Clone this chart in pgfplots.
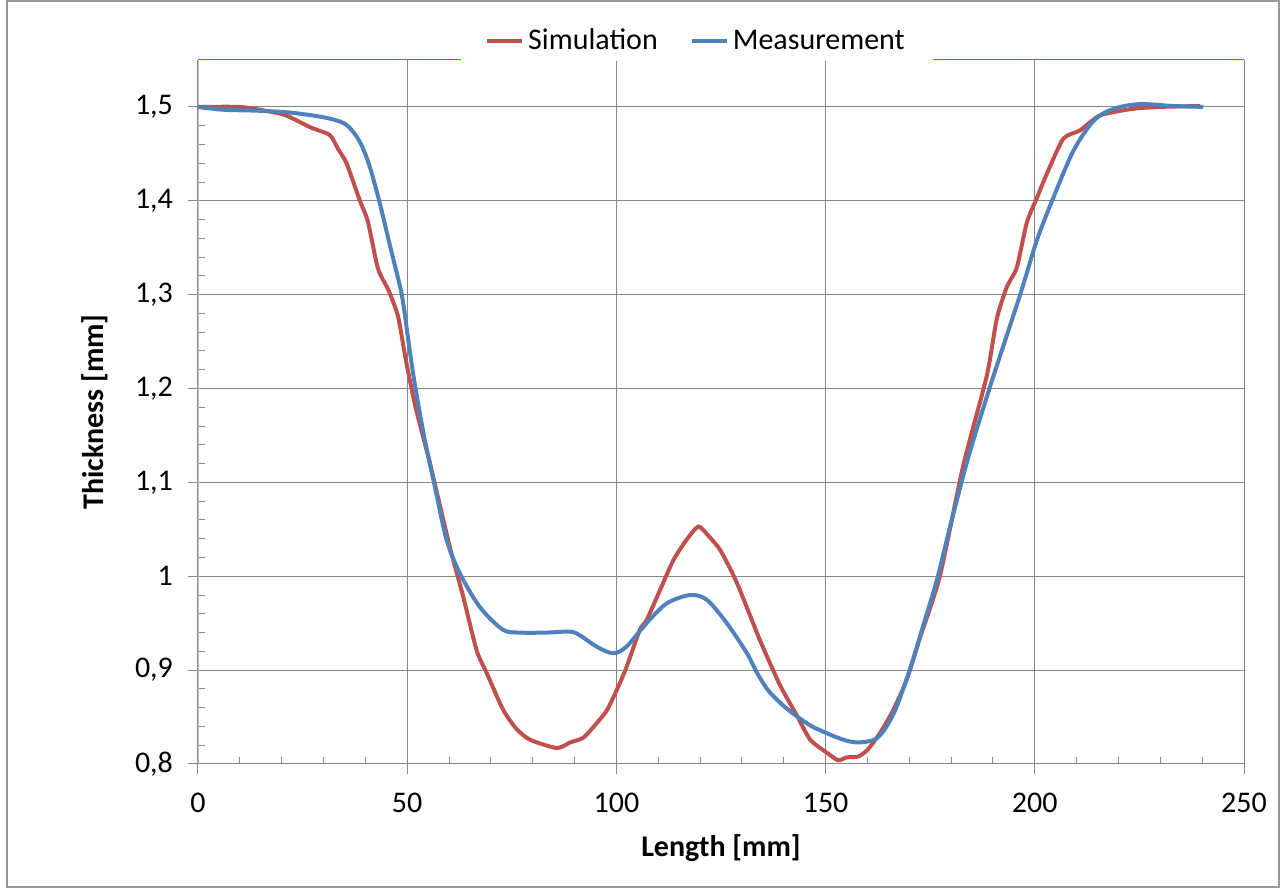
\documentclass[border=0pt]{standalone}
\usepackage{fontspec}
\setmainfont{Carlito}
\usepackage{pgfplots}
\pgfplotsset{compat=1.18}

\definecolor{simred}{HTML}{C0504D}
\definecolor{measblue}{HTML}{4F81BD}
\definecolor{gridgray}{HTML}{868686}
\definecolor{leftgray}{HTML}{BFBFBF}
\definecolor{frameblue}{HTML}{2E86D6}

% Simulation
\pgfplotstableread{
x y
0 1.500
10 1.500
16 1.496
21 1.491
27 1.478
31.5 1.470
33.5 1.455
35.5 1.440
38.7 1.400
40.6 1.378
43 1.328
45.5 1.305
47.8 1.277
49.7 1.230
52 1.180
55.4 1.121
60.2 1.031
63.4 0.978
66.6 0.921
69 0.897
72.9 0.858
76 0.838
79.3 0.826
85.7 0.817
89 0.823
92.1 0.828
95 0.842
97.7 0.857
100.1 0.879
102.4 0.903
105.6 0.943
107.2 0.953
110.4 0.985
113.6 1.017
116.8 1.039
119.6 1.053
122 1.043
124.8 1.028
128.8 0.993
134.3 0.932
139.1 0.884
143.1 0.852
146.3 0.826
150 0.813
153 0.804
155 0.807
157.8 0.808
160 0.815
163 0.833
166 0.856
169.4 0.890
172.6 0.935
177.3 1.000
182.9 1.118
188.5 1.213
190.9 1.274
193.3 1.308
195.7 1.329
198.1 1.377
200.5 1.403
202.8 1.428
206.8 1.466
210.8 1.475
215.6 1.491
223.5 1.498
230 1.500
239.5 1.501
}\simdata

% Measurement
\pgfplotstableread{
x y
0 1.500
6 1.497
14 1.496
22 1.494
30 1.489
34.7 1.483
37 1.474
39 1.460
41 1.437
43.3 1.400
46 1.350
48.7 1.300
50.3 1.250
51.7 1.208
54 1.150
56.4 1.100
59.4 1.039
62.6 1.003
67.4 0.967
72.9 0.943
77 0.940
83.3 0.940
88.9 0.941
91.3 0.937
95.3 0.925
99.2 0.918
102.4 0.925
107.2 0.950
112 0.971
117.6 0.980
121.6 0.975
126.4 0.950
131.2 0.918
133.5 0.898
136 0.880
138.5 0.868
141 0.858
144 0.848
147.2 0.839
153.5 0.827
157.6 0.823
162.4 0.828
166.3 0.854
170.3 0.903
173.5 0.950
176.6 0.996
179.7 1.052
184 1.125
189.3 1.202
196.5 1.300
200.5 1.358
204.4 1.403
209.2 1.453
214 1.485
218.8 1.498
225.1 1.503
233.1 1.501
240.3 1.500
}\measdata

\begin{document}
\begin{tikzpicture}
\begin{axis}[
    name=ax,
    scale only axis,
    width=523pt, height=352pt,
    xmin=0, xmax=250, ymin=0.8, ymax=1.55,
    xtick={0,50,...,250},
    ytick={0.8,0.9,...,1.5},
    minor x tick num=4,
    minor y tick num=4,
    xtick pos=bottom, ytick pos=left,
    tick align=outside,
    major tick length=5pt,
    minor tick length=3.5pt,
    tick style={gridgray, line width=0.5pt},
    minor x tick style={yshift=3.5pt},
    minor y tick style={xshift=3.5pt},
    grid=major,
    major grid style={gridgray, line width=0.5pt},
    axis line style={draw=none},
    /pgf/number format/.cd, use comma, fixed, precision=1, assume math mode=true,
    /pgfplots/.cd,
    ticklabel style={font=\fontsize{15}{18}\selectfont},
    xticklabel style={yshift=-6pt},
    yticklabel style={xshift=-4pt},
    xlabel={Length [mm]},
    ylabel={Thickness [mm]},
    label style={font=\fontsize{15}{18}\selectfont\bfseries},
    xlabel style={yshift=-4pt},
    ylabel style={yshift=6.5pt},
    legend columns=2,
    legend style={draw=none, fill=white, at={(0.477,1.027)}, anchor=center,
        font=\fontsize{15}{18}\selectfont, inner xsep=12pt, inner ysep=2pt,
        /tikz/every even column/.append style={column sep=14pt}},
    legend image code/.code={\draw[#1, line width=2pt] (0pt,0pt) -- (17.5pt,0pt);},
]
\draw[leftgray, line width=1.5pt] (rel axis cs:0,0) -- (rel axis cs:0,1);
\draw[gridgray, line width=0.6pt] (rel axis cs:0,0) -- (rel axis cs:1,0);
\draw[frameblue, line width=0.5pt] (rel axis cs:0,1) -- (rel axis cs:1,1) -- (rel axis cs:1,0.03);
\addplot[simred, line width=2pt, smooth, tension=0.4] table[x=x,y=y] {\simdata};
\addlegendentry{Simulation}
\addplot[measblue, line width=2pt, smooth, tension=0.5] table[x=x,y=y] {\measdata};
\addlegendentry{Measurement}
\end{axis}
\draw[gray!80, line width=0.8pt] ([xshift=-95.5pt,yshift=-61.5pt]ax.south west) rectangle ([xshift=17.6pt,yshift=29.6pt]ax.north east);
\pgfresetboundingbox
\path ([xshift=-99pt,yshift=-62pt]ax.south west) rectangle ([xshift=18pt,yshift=30pt]ax.north east);
\end{tikzpicture}
\end{document}
